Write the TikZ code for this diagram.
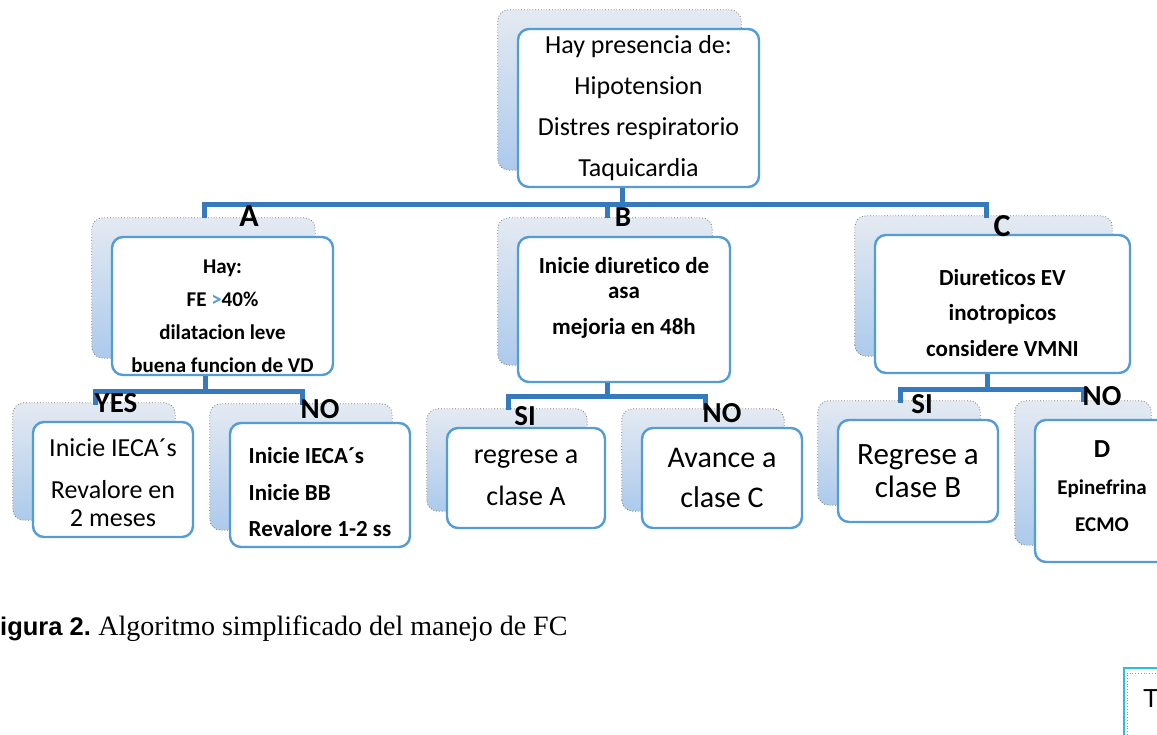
\documentclass[tikz,border=0pt]{standalone}
\usepackage{fontspec}
\setmainfont{Carlito}[Ligatures=CommonOff]
\newfontfamily\capserif{Liberation Serif}
\newfontfamily\capsans{Liberation Sans}
\usetikzlibrary{backgrounds}

\definecolor{cardblue}{RGB}{84,156,214}
\definecolor{linkblue}{RGB}{52,122,189}
\definecolor{shadetop}{RGB}{228,234,242}
\definecolor{shadebot}{RGB}{172,202,236}
\definecolor{tabcyan}{RGB}{40,190,235}

\begin{document}
\begin{tikzpicture}[
    x=1pt, y=-1pt,
    card/.style={draw=cardblue, line width=2.4pt, fill=white, rounded corners=11pt,
        align=center, inner sep=2pt},
    backcard/.style={draw=black!55, dotted, line width=.8pt, rounded corners=11pt,
        top color=shadetop, bottom color=shadebot},
    link/.style={draw=linkblue, line width=5pt},
    tag/.style={font=\fontsize{29}{30}\selectfont\bfseries, anchor=base},
    bigtag/.style={tag, font=\fontsize{32}{34}\selectfont\bfseries},
]
    \useasboundingbox (0,0) rectangle (1157,735);
    \clip (0,0) rectangle (1157,735);

    %% the question at the top
    \node[card, minimum width=241pt, minimum height=158pt,
        font=\fontsize{26}{41}\selectfont] (top) at (638.5,108)
        {Hay presencia de:\\Hipotension\\Distres respiratorio\\Taquicardia};

    %% classes A, B, C
    \node[card, minimum width=221pt, minimum height=138pt,
        font=\fontsize{21}{33}\selectfont\bfseries] (boxA) at (222.5,306)
        {\rule{0pt}{34pt}Hay:\\FE \textcolor{cardblue}{>}40\%\\dilatacion leve\\buena funcion de VD};
    \node[card, minimum width=212pt, minimum height=145pt,
        font=\fontsize{23}{25}\selectfont\bfseries] (boxB) at (624,309.5)
        {Inicie diuretico de\\asa\\[11pt]mejoria en 48h\rule[-27pt]{0pt}{0pt}};
    \node[card, minimum width=255pt, minimum height=138pt,
        font=\fontsize{23}{35.5}\selectfont\bfseries] (boxC) at (1002.5,304)
        {\rule{0pt}{34pt}Diureticos EV\\inotropicos\\considere VMNI};

    %% answers
    \node[card, minimum width=160pt, minimum height=115pt,
        font=\fontsize{26}{28}\selectfont] (yesA) at (113,479.5)
        {\rule{0pt}{24pt}Inicie IECA´s\\[14pt]Revalore en\\2 meses};
    \node[card, align=left, minimum width=180pt, minimum height=124pt,
        font=\fontsize{23}{36.5}\selectfont\bfseries] (noA) at (320,485)
        {\rule{0pt}{31pt}Inicie IECA´s\\Inicie BB\\Revalore 1-2 ss};
    \node[card, minimum width=158pt, minimum height=100pt,
        font=\fontsize{28}{42}\selectfont] (siB) at (526,478)
        {regrese a\\clase A};
    \node[card, minimum width=160pt, minimum height=100pt,
        font=\fontsize{30}{40}\selectfont] (noB) at (722,478)
        {Avance a\\clase C};
    \node[card, minimum width=160pt, minimum height=102pt,
        font=\fontsize{31}{33}\selectfont] (siC) at (918,471)
        {Regrese a\\clase B};
    \node[card, minimum width=134pt, minimum height=142pt,
        font=\fontsize{21}{37}\selectfont\bfseries] (noC) at (1102,491)
        {{\fontsize{26}{28}\selectfont D}\\Epinefrina\\ECMO\rule[-10pt]{0pt}{0pt}};

    %% stacked cards behind every box
    \begin{scope}[on background layer]
        \foreach \n in {top,boxA,boxB,boxC,yesA,noA,siB,noB,siC,noC}
            \path[backcard] ([shift={(-19,-18)}]\n.south west)
                rectangle ([shift={(-19,-18)}]\n.north east);
    \end{scope}

    %% first split
    \coordinate (dropA) at (204,218);
    \coordinate (dropB) at (607,218);
    \coordinate (dropC) at (986,218);
    \draw[link] ([xshift=-16pt]top.south) -- ++(0,16) coordinate (hub);
    \draw[link] (dropA) |- (hub) -| (dropC);
    \draw[link] (dropB) -- (dropB |- hub);

    %% second split under each class
    \coordinate (dropYesA) at (95,405);
    \coordinate (dropNoA) at (302,405);
    \draw[link] ([xshift=-17.5pt]boxA.south) -- ++(0,15) coordinate (hubA);
    \draw[link] (dropYesA) |- (hubA) -| (dropNoA);

    \coordinate (dropSiB) at (508,410);
    \coordinate (dropNoB) at (705,410);
    \draw[link] ([xshift=-17pt]boxB.south) -- ++(0,13) coordinate (hubB);
    \draw[link] (dropSiB) |- (hubB) -| (dropNoB);

    \coordinate (dropSiC) at (900,403);
    \coordinate (dropNoC) at (1083,402);
    \draw[link] ([xshift=-15.5pt]boxC.south) -- ++(0,15) coordinate (hubC);
    \draw[link] (dropSiC) |- (hubC) -| (dropNoC);

    %% branch tags
    \node[bigtag] (tagA) at (249,227) {A};
    \node[tag] (tagB) at (623,227) {B};
    \node[bigtag] (tagC) at (1002,237) {C};
    \node[tag] (tagYes) at (116,412) {YES};
    \node[tag] (tagNoA) at (320,418) {NO};
    \node[tag] (tagSiB) at (525,425) {SI};
    \node[tag] (tagNoB) at (722,422) {NO};
    \node[tag] (tagSiC) at (922,413) {SI};
    \node[tag] (tagNoC) at (1102,405) {NO};

    %% caption
    \node[anchor=base west, inner sep=0] (caption) at (0,635)
        {{\capsans\bfseries\fontsize{25.5}{30}\selectfont igura 2.}\fontsize{25}{30}\selectfont{} 
         {\capserif\fontsize{28}{30}\selectfont Algoritmo simplificado del manejo de FC}};

    %% edge of the next box
    \draw[tabcyan, line width=1.5pt] (1124,760) -- (1124,668) -- (1170,668);
    \draw[black!40, dotted, line width=.8pt] (1127,760) -- (1127,673) -- (1170,673);
    \node[anchor=base west, inner sep=0, font=\capsans\fontsize{26}{30}\selectfont] (tabT)
        at (1143,707) {T};
\end{tikzpicture}
\end{document}
